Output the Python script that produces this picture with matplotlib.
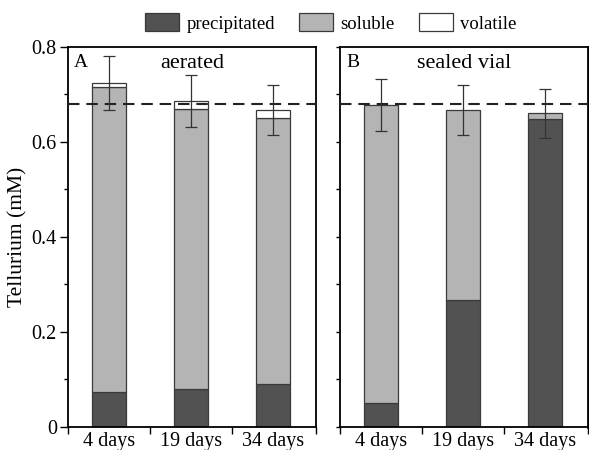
import matplotlib.pyplot as plt
from matplotlib.patches import Patch
from matplotlib.ticker import MultipleLocator, FixedLocator

plt.rcParams['font.family'] = ['Liberation Serif', 'DejaVu Serif']

# Data
categories = ['4 days', '19 days', '34 days']

aerated_precip = [0.074, 0.080, 0.090]
aerated_soluble = [0.641, 0.588, 0.560]
aerated_volatile = [0.009, 0.018, 0.017]
aerated_err = [0.057, 0.055, 0.053]

sealed_precip = [0.049, 0.267, 0.648]
sealed_soluble = [0.628, 0.400, 0.012]
sealed_volatile = [0.0, 0.0, 0.0]
sealed_err = [0.054, 0.053, 0.052]

initial_te = 0.68

c_precip = '#525252'
c_soluble = '#b4b4b4'
c_volatile = 'white'
edge = '#3a3a3a'


# Function to draw one stacked panel
def draw_panel(ax, precip, soluble, volatile, err, letter, title):
    x = list(range(len(categories)))
    w = 0.41
    ax.bar(x, precip, w, color=c_precip, edgecolor=edge, linewidth=0.9, zorder=2)
    ax.bar(x, soluble, w, bottom=precip, color=c_soluble, edgecolor=edge,
           linewidth=0.9, zorder=2)
    base = [p + s for p, s in zip(precip, soluble)]
    tops = [b + v for b, v in zip(base, volatile)]
    for xi, b, v in zip(x, base, volatile):
        if v > 0:
            ax.bar(xi, v, w, bottom=b, color=c_volatile, edgecolor=edge,
                   linewidth=0.9, zorder=2)
    ax.errorbar(x, tops, yerr=err, fmt='none', ecolor='#333333', elinewidth=0.9,
                capsize=4, capthick=0.9, zorder=4)
    ax.axhline(initial_te, color='#222222', linewidth=1.5, dashes=(5.5, 3.3),
               zorder=3)

    ax.set_xlim(-0.5, 2.52)
    ax.set_ylim(0, 0.8)
    ax.set_xticks(x)
    ax.set_xticklabels(categories, fontsize=14.5)
    ax.xaxis.set_minor_locator(FixedLocator([-0.5, 0.5, 1.5, 2.52]))
    ax.tick_params(axis='x', which='major', length=0, pad=4)
    ax.tick_params(axis='x', which='minor', length=5, width=1, direction='out')
    ax.yaxis.set_minor_locator(MultipleLocator(0.1))
    for s in ax.spines.values():
        s.set_linewidth(1.3)

    ax.text(0.025, 0.98, letter, transform=ax.transAxes, fontsize=14,
            ha='left', va='top')
    ax.text(0.5, 0.98, title, transform=ax.transAxes, fontsize=16,
            ha='center', va='top')


fig = plt.figure(figsize=(5.89, 4.5), dpi=100)
ax1 = fig.add_axes([0.1154, 0.0518, 0.421, 0.8444])
ax2 = fig.add_axes([0.5772, 0.0518, 0.421, 0.8444])

draw_panel(ax1, aerated_precip, aerated_soluble, aerated_volatile, aerated_err,
           'A', 'aerated')
draw_panel(ax2, sealed_precip, sealed_soluble, sealed_volatile, sealed_err,
           'B', 'sealed vial')
ax2.spines['right'].set_linewidth(2)

ax1.set_yticks([0, 0.2, 0.4, 0.6, 0.8])
ax1.set_yticklabels(['0', '0.2', '0.4', '0.6', '0.8'], fontsize=14.5)
ax1.tick_params(axis='y', which='major', length=6, width=1, direction='out',
                pad=2)
ax1.tick_params(axis='y', which='minor', length=3, width=1, direction='out')
ax1.set_ylabel('Tellurium (mM)', fontsize=15.5, labelpad=3)

ax2.set_yticks([0, 0.2, 0.4, 0.6, 0.8])
ax2.set_yticklabels([])
ax2.tick_params(axis='y', which='both', length=3, width=1, direction='out')

handles = [
    Patch(facecolor=c_precip, edgecolor=edge, linewidth=0.9, label='precipitated'),
    Patch(facecolor=c_soluble, edgecolor=edge, linewidth=0.9, label='soluble'),
    Patch(facecolor=c_volatile, edgecolor=edge, linewidth=0.9, label='volatile'),
]
fig.legend(handles=handles, loc='center', bbox_to_anchor=(0.562, 0.949), ncol=3,
           frameon=False, fontsize=13.5, handlelength=1.8, handleheight=1.1,
           handletextpad=0.4, columnspacing=1.3, borderpad=0)

fig.savefig('out.png', dpi=100)
